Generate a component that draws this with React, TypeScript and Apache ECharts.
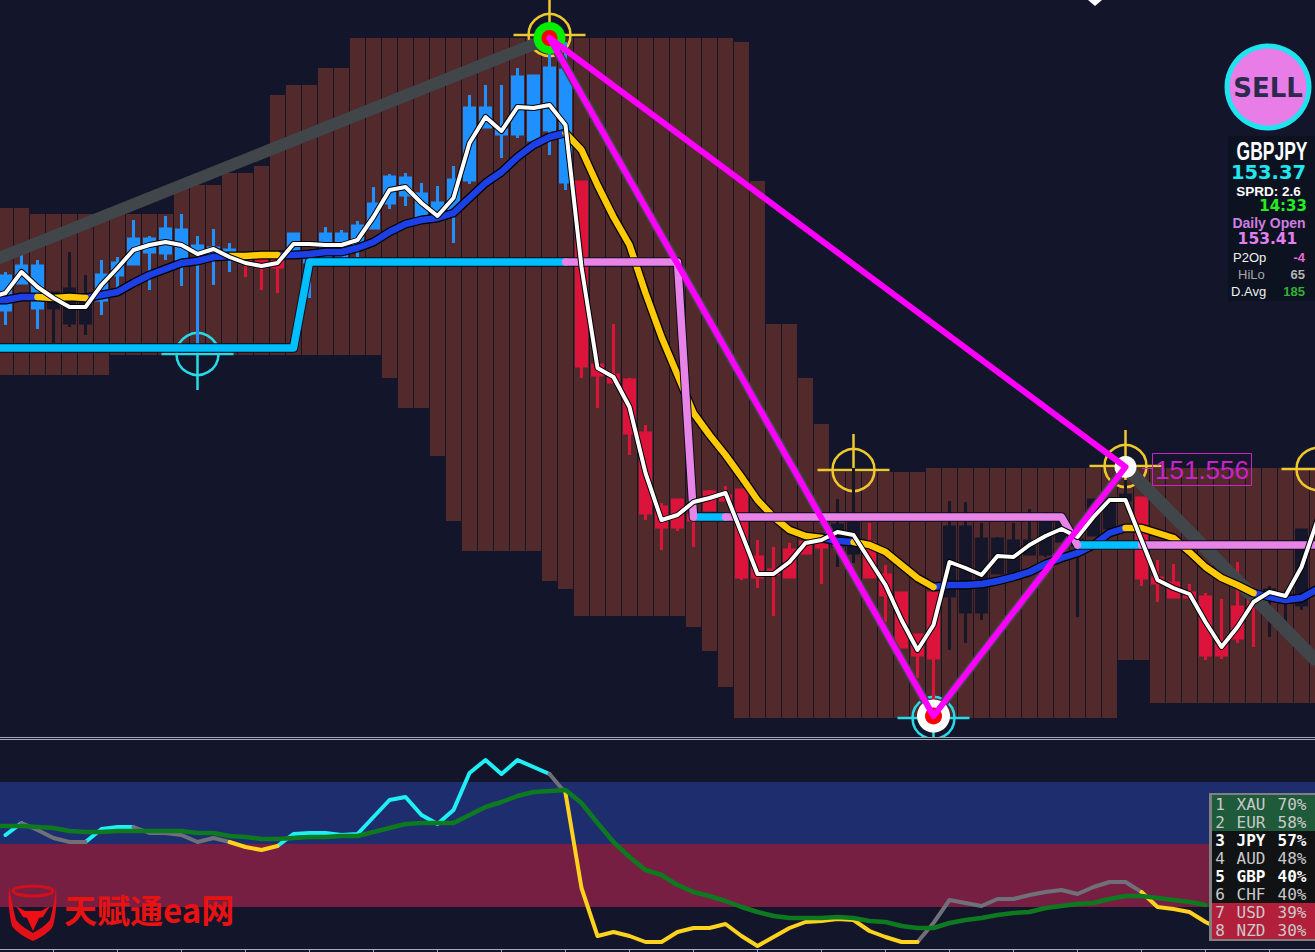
import React, { useEffect, useRef } from "react";
import * as echarts from "echarts";

// Prices are in points above 151.000 (1 point = 0.001).
// Bar numbers run from 0 (first bar on screen); slot 0 of the axis is the bar before the left edge.
const rep = (v: number, n: number) => Array(n).fill(v);

const slots = Array.from({ length: 84 }, (_, s) => String(s - 1));

const cloudHigh = [
  ...rep(815, 2), ...rep(809, 9), ...rep(838, 3), ...rep(850, 2), 857, 928, ...rep(938, 2), ...rep(955, 2),
  ...rep(985, 24), 981, 842, ...rep(699, 2), 645, 599, ...rep(551, 6), ...rep(555, 25),
];
const cloudLow = [
  ...rep(648, 7), ...rep(668, 17), 645, ...rep(615, 2), 567, 502, ...rep(472, 5), 442, 434, ...rep(407, 7),
  396, 372, 336, ...rep(305, 24), ...rep(363, 2), ...rep(320, 11),
];

const candleKinds = "bbbdddbbbbbbbbbrrrbbbbbbbbbbbbbbbbbbrrrrrrrrrrrrrrrrddrrrrrddddddddddddrrrrrrrrddd";
const wickHigh = [751,769,763,730,771,748,763,766,803,787,807,809,787,794,780,769,766,770,790,770,796,793,802,836,849,850,840,837,857,928,938,938,955,947,973,981,841,670,699,645,598,520,523,523,533,537,533,483,476,480,481,483,524,555,500,458,430,388,430,522,521,500,486,500,514,511,500,490,523,523,543,525,463,459,439,430,424,461,423,437,433,494];
const bodyTop = [747,757,757,730,734,728,748,760,784,784,794,793,777,775,773,769,766,770,789,770,789,789,797,819,846,845,829,820,843,915,915,893,946,947,955,953,841,658,648,643,590,516,523,508,531,527,533,466,453,473,481,483,498,500,480,448,430,388,430,496,496,484,484,482,482,500,500,483,523,523,528,525,445,440,430,426,378,416,423,433,428,493];
const bodyBottom = [713,740,715,715,700,700,723,748,759,771,770,761,771,766,770,760,756,756,766,761,766,767,776,795,820,828,806,806,811,843,896,889,889,883,893,841,657,648,641,590,510,496,496,503,513,523,446,446,449,446,470,476,477,470,446,428,376,368,365,427,411,411,450,450,469,469,482,478,488,495,523,445,440,426,426,368,368,385,418,428,421,418];
const wickLow = [698,740,694,680,696,688,708,733,759,733,763,737,676,738,751,746,733,730,766,725,766,767,766,794,814,817,806,806,780,839,896,865,885,883,868,833,645,615,641,568,503,473,492,476,513,523,443,435,407,445,470,439,456,460,446,401,376,345,320,373,380,403,450,450,469,466,482,406,488,493,523,437,421,426,426,363,364,380,376,386,400,413];

// line values: first entry is the off-screen bar before the left edge
const fastAverage = [725,730,751,736,725,716,716,738,755,773,778,781,778,769,774,766,760,757,760,779,779,778,778,783,806,833,836,820,807,825,880,906,892,916,915,918,898,756,655,646,616,550,503,508,521,525,530,490,449,449,461,480,483,491,488,463,438,403,373,398,461,455,448,467,466,478,487,494,486,506,523,523,483,443,435,429,401,376,396,421,431,427,456,503];
const slowAverage = [723,723,726,726,725,726,725,728,731,740,748,754,760,762,766,767,767,768,768,768,769,771,771,775,781,791,799,803,805,810,825,840,851,866,878,886,890,873,838,806,778,730,686,648,610,588,568,546,523,506,493,487,485,482,481,478,471,458,445,436,438,438,439,442,446,451,459,465,470,478,490,495,495,490,485,471,456,445,438,430,426,423,425,434];
const supportLevel = [...rep(675, 20), ...rep(761, 24), ...rep(506, 24), ...rep(478, 16)];

const slowBlueSlots = [[0,3],[6,15],[18,36],[52,54],[59,71],[79,83]];
const slowGoldSlots = [[3,6],[15,18],[36,52],[54,59],[71,79]];
const supportCyanSlots = [[0,36],[44,46],[68,72]];
const supportPinkSlots = [[36,44],[46,68],[72,83]];

const zigzagPeak = [35, 985];
const zigzagTrough = [59, 307];
const zigzagLast = [71, 556];
const zigzagBefore = [0, 761];
const zigzagAfter = [83, 361];
const zigzagLabel = "151.556";

const crosshairPoints = [[35,988],[54,553],[71,557],[83,554],[13,669],[59,305]];
const crosshairColors = ["#eec92c","#eec92c","#eec92c","#eec92c","#27dbe6","#27dbe6"];

// lower window: indicator, 0 at the bottom axis
const bandLevels = [42, 105, 167];
const rsiFast = [null,114,126,119,111,107,107,120,122,122,116,116,114,107,111,107,102,99,103,115,116,116,114,115,132,149,152,134,125,139,176,189,175,189,182,175,156,61,13,17,13,7,7,17,21,21,25,13,3,12,21,27,28,30,29,18,12,7,7,26,49,46,43,50,50,54,57,59,55,62,67,67,57,42,40,37,27,19];
const rsiSlow = [123,123,123,122,121,118,117,117,118,118,118,118,118,116,116,113,112,110,110,111,112,112,113,113,117,121,125,126,126,126,134,142,147,153,157,158,159,146,126,107,92,79,74,64,57,53,48,42,37,33,31,31,31,32,31,28,27,23,21,21,26,29,31,34,36,37,41,43,45,46,50,53,53,51,49,47,44];
const rsiCyanSlots = [[1,2],[6,9],[18,35]];
const rsiGraySlots = [[2,6],[9,15],[35,36],[58,72]];
const rsiGoldSlots = [[15,18],[36,58],[72,77]];

const strengthRanks = ["1","2","3","4","5","6","7","8"];
const strengthNames = ["XAU","EUR","JPY","AUD","GBP","CHF","USD","NZD"];
const strengthPcts = ["70%","58%","57%","48%","40%","40%","39%","30%"];
const strengthBold = [false,false,true,false,true,false,false,false];

const BG = "#13152a";
const CANDLE: Record<string, string> = { b: "#1e90ff", r: "#dc143c", d: "#16162b" };

const only = (values: (number | null)[], ranges: number[][]) =>
  values.map((v, s) => (ranges.some(([a, b]) => s >= a && s <= b) ? v : null));

let nextZ = 10;
const line = (data: any[], color: string, width: number, grid = 0, extra: any = {}) => ({
  type: "line",
  z: nextZ++,
  data,
  xAxisIndex: grid,
  yAxisIndex: grid,
  symbol: "none",
  showSymbol: false,
  silent: true,
  connectNulls: false,
  lineStyle: { color, width, cap: "round", join: "round" },
  ...extra,
});

const candleData = [
  ["-", "-", "-", "-"],
  ...bodyTop.map((t, i) => {
    const kind = candleKinds[i];
    const c = CANDLE[kind];
    const value = kind === "r" ? [t, bodyBottom[i], wickLow[i], wickHigh[i]] : [bodyBottom[i], t, wickLow[i], wickHigh[i]];
    return { value, itemStyle: { color: c, color0: c, borderColor: c, borderColor0: c, borderColorDoji: c } };
  }),
  ["-", "-", "-", "-"],
];

const renderCrosshair = (params: any, api: any) => {
  const [x, y] = api.coord([api.value(0), api.value(1)]);
  const stroke = crosshairColors[params.dataIndex];
  const style = { stroke, fill: "none", lineWidth: 2.5 };
  return {
    type: "group",
    children: [
      { type: "circle", shape: { cx: x, cy: y, r: 21 }, style },
      { type: "line", shape: { x1: x - 36, y1: y, x2: x + 36, y2: y }, style },
      { type: "line", shape: { x1: x, y1: y - 36, x2: x, y2: y + 36 }, style },
    ],
  };
};

const shieldPath =
  "M9 7C8 20 9 35 12 46C16 52 26 58 33 61C40 58 50 52 53 46C56 35 57 20 56 7C55 18 53 28 50 40C45 46 38 50 33 53C28 50 21 46 16 40C13 28 11 18 9 7Z";
const bullPath = "M16 26L25 31L41 31L50 26L43 37L39 38L33 51L27 38L23 37Z";

const txt = (text: string, x: number, y: number, fill: string, font: string, align = "left", extra: any = {}) => ({
  type: "text",
  x,
  y,
  z: 100,
  silent: true,
  ...extra,
  style: { text, x: 0, y: 0, fill, font, textAlign: align, textVerticalAlign: "middle", align, verticalAlign: "middle" },
});
const box = (x: number, y: number, width: number, height: number, fill: string, stroke?: string, lineWidth = 1) => ({
  type: "rect",
  z: 100,
  silent: true,
  shape: { x, y, width, height },
  style: stroke ? { fill, stroke, lineWidth } : { fill },
});
const rule = (x1: number, y1: number, x2: number, y2: number, stroke: string, lineWidth = 1) => ({
  type: "line",
  z: 100,
  silent: true,
  shape: { x1, y1, x2, y2 },
  style: { stroke, lineWidth },
});

const SANS = '"Liberation Sans"';
const WIDE = '"DejaVu Sans"';
const MONO = '"DejaVu Sans Mono"';

const rowFill = (r: number) => (r < 2 ? "#1f5a3a" : r < 6 ? "#111214" : "#b21f3a");

const graphics: any[] = [
  // window separators
  rule(0, 737.5, 1315, 737.5, "#a5abbb"),
  rule(0, 739.5, 1315, 739.5, "#a5abbb"),
  // zigzag arrow at the top edge
  { type: "polygon", z: 100, silent: true, shape: { points: [[1088, 0], [1102, 0], [1095, 6]] }, style: { fill: "#ffffff" } },
  // price tag
  rule(1142, 468.5, 1152, 468.5, "#cc22cc"),
  box(1152.5, 453.5, 99, 32, "none", "#cc22cc"),
  txt(zigzagLabel, 1202, 470, "#cc22cc", `26px ${SANS}`, "center"),
  // signal badge
  { type: "circle", z: 100, silent: true, shape: { cx: 1268, cy: 87, r: 41 }, style: { fill: "#e87de8", stroke: "#1fe3ee", lineWidth: 5 } },
  txt("SELL", 1268, 88, "#2d2a4d", `bold 26px ${WIDE}`, "center"),
  // info panel
  box(1228, 136, 87, 165, "#0c1220"),
  txt("GBPJPY", 1272, 151, "#ffffff", `bold 25px ${SANS}`, "center", { scaleX: 0.7 }),
  txt("153.37", 1268.5, 172, "#22e6ee", `bold 19.5px ${WIDE}`, "center"),
  txt("SPRD: 2.6", 1268.5, 191, "#ffffff", `bold 13.5px ${SANS}`, "center"),
  txt("14:33", 1307, 206, "#22ee22", `bold 15px ${WIDE}`, "right"),
  txt("Daily Open", 1269, 223, "#cf7ee0", `bold 14px ${SANS}`, "center"),
  txt("153.41", 1267.5, 239, "#e080ee", `bold 15.5px ${WIDE}`, "center"),
  txt("P2Op", 1233, 257, "#f0f0f0", `13px ${SANS}`),
  txt("-4", 1305, 257, "#ee66dd", `bold 13px ${SANS}`, "right"),
  txt("HiLo", 1238, 274, "#a8a8a8", `13px ${SANS}`),
  txt("65", 1305, 274, "#b4b4b4", `bold 13px ${SANS}`, "right"),
  txt("D.Avg", 1231, 291, "#f0f0f0", `13px ${SANS}`),
  txt("185", 1305, 291, "#35b035", `bold 13px ${SANS}`, "right"),
  // currency strength table
  box(1210, 794, 104, 146, "#808080", "#808080", 2),
  ...strengthNames.flatMap((name, r) => {
    const y = 804 + r * 18;
    const fill = strengthBold[r] ? "#ffffff" : "#c9c9c9";
    const font = `${strengthBold[r] ? "bold " : ""}16px ${MONO}`;
    return [
      box(1212, 795 + r * 18, 103, 18, rowFill(r)),
      txt(strengthRanks[r], 1220, y, fill, font, "center"),
      txt(name, 1251, y, fill, font, "center"),
      txt(strengthPcts[r], 1292, y, fill, font, "center"),
    ];
  }),
  // watermark
  { type: "shieldMark", z: 100, silent: true, x: 0, y: 880, style: { fill: "#e3101a" } },
  { type: "bullMark", z: 100, silent: true, x: 0, y: 880, style: { fill: "#ef0f14" } },
  { type: "ellipse", z: 100, silent: true, shape: { cx: 33, cy: 891, rx: 20, ry: 5 }, style: { fill: "none", stroke: "#d0101c", lineWidth: 3 } },
  txt("天赋通ea网", 64, 909, "#e81212", `bold 33px "Noto Sans CJK SC"`),
];

export default function App() {
  const ref = useRef<HTMLDivElement>(null);
  useEffect(() => {
    document.body.style.margin = "0";
    document.body.style.background = BG;
    document.body.style.overflow = "hidden";
    echarts.graphic.registerShape("shieldMark", echarts.graphic.extendPath(shieldPath, {}) as any);
    echarts.graphic.registerShape("bullMark", echarts.graphic.extendPath(bullPath, {}) as any);
    const chart = echarts.init(ref.current!, undefined, { renderer: "svg" });
    const axisColor = "#a5abbb";
    nextZ = 10;
    chart.setOption({
      animation: false,
      backgroundColor: BG,
      tooltip: { show: false },
      grid: [
        { left: -18.5, width: 1344, top: 0, height: 738, outerBoundsMode: "none" },
        { left: -18.5, width: 1344, top: 739.5, height: 209.5, outerBoundsMode: "none" },
      ],
      xAxis: [
        { type: "category", gridIndex: 0, data: slots, show: false },
        {
          type: "category",
          gridIndex: 1,
          data: slots,
          axisLine: { show: true, lineStyle: { color: axisColor, width: 1 } },
          axisTick: {
            show: true,
            alignWithLabel: true,
            length: 3,
            interval: (s: number) => s > 0 && s % 4 === 0,
            lineStyle: { color: axisColor },
          },
          axisLabel: { show: false },
          splitLine: { show: false },
        },
      ],
      yAxis: [
        { type: "value", gridIndex: 0, min: 285, max: 1023, show: false, splitLine: { show: false } },
        { type: "value", gridIndex: 1, min: 0, max: 209.5, show: false, splitLine: { show: false } },
      ],
      series: [
        // cloud
        {
          type: "bar", z: 2, stack: "cloud", barWidth: 15, silent: true,
          data: [null, ...cloudLow], itemStyle: { color: "rgba(0,0,0,0)" },
        },
        {
          type: "bar", z: 2, stack: "cloud", barWidth: 15, silent: true,
          data: [null, ...cloudHigh.map((h, i) => h - cloudLow[i])], itemStyle: { color: "#522a2c" },
        },
        // crosshairs
        {
          type: "custom", z: 3, renderItem: renderCrosshair, data: crosshairPoints, clip: true, silent: true,
          encode: { x: 0, y: 1 },
        },
        // candles
        { type: "candlestick", z: 4, data: candleData, barWidth: 10, silent: true, itemStyle: { borderWidth: 3 } },
        // zigzag shadow
        line([zigzagBefore, zigzagPeak], "#41464a", 12, 0, { lineStyle: { color: "#41464a", width: 12, cap: "butt" } }),
        line([zigzagLast, zigzagAfter], "#41464a", 13, 0, { lineStyle: { color: "#41464a", width: 13, cap: "butt" } }),
        line([zigzagPeak, zigzagTrough, zigzagLast], "#41464a", 9),
        // slow average
        line(slowAverage, "#000000", 9),
        line(only(slowAverage, slowBlueSlots), "#1c40e6", 6.5),
        line(only(slowAverage, slowGoldSlots), "#ffc907", 6.5),
        // support / resistance
        line(supportLevel, "#0b0d1c", 9.5),
        line(only(supportLevel, supportCyanSlots), "#00bfff", 7.5),
        line(only(supportLevel, supportPinkSlots), "#e884e8", 7.5),
        // fast average
        line(fastAverage, "#000000", 6),
        line(fastAverage, "#ffffff", 4),
        // pivot dots
        {
          type: "scatter", z: 40, silent: true, symbol: "circle",
          data: [
            { value: zigzagPeak, symbolSize: 32, itemStyle: { color: "#00ee00", opacity: 1 } },
            { value: zigzagTrough, symbolSize: 33, itemStyle: { color: "#ffffff", opacity: 1 } },
            { value: zigzagLast, symbolSize: 22, itemStyle: { color: "#ffffff", opacity: 1 } },
          ],
        },
        {
          type: "scatter", z: 41, silent: true, symbol: "circle",
          data: [
            { value: zigzagPeak, symbolSize: 16, itemStyle: { color: "#ff0000", opacity: 1 } },
            { value: zigzagTrough, symbolSize: 17, itemStyle: { color: "#ff0000", opacity: 1 } },
          ],
        },
        // zigzag triangle
        { ...line([zigzagPeak, zigzagTrough, zigzagLast, zigzagPeak], "#ff00ff", 6), z: 42 },
        // lower window
        line(only(rsiFast, rsiCyanSlots), "#1ef0f5", 4, 1),
        line(only(rsiFast, rsiGraySlots), "#707078", 4, 1),
        line(only(rsiFast, rsiGoldSlots), "#ffd21e", 4, 1),
        line(rsiSlow, "#0d7a1f", 4.5, 1, {
          markArea: {
            silent: true,
            itemStyle: { opacity: 1 },
            data: [
              [{ yAxis: bandLevels[1], itemStyle: { color: "#1e2d6e", opacity: 1 } }, { yAxis: bandLevels[2] }],
              [{ yAxis: bandLevels[0], itemStyle: { color: "#761f42", opacity: 1 } }, { yAxis: bandLevels[1] }],
            ],
          },
        }),
      ],
      graphic: { elements: graphics },
    });
    return () => chart.dispose();
  }, []);
  return <div ref={ref} style={{ position: "fixed", left: 0, top: 0, width: 1315, height: 952 }} />;
}
